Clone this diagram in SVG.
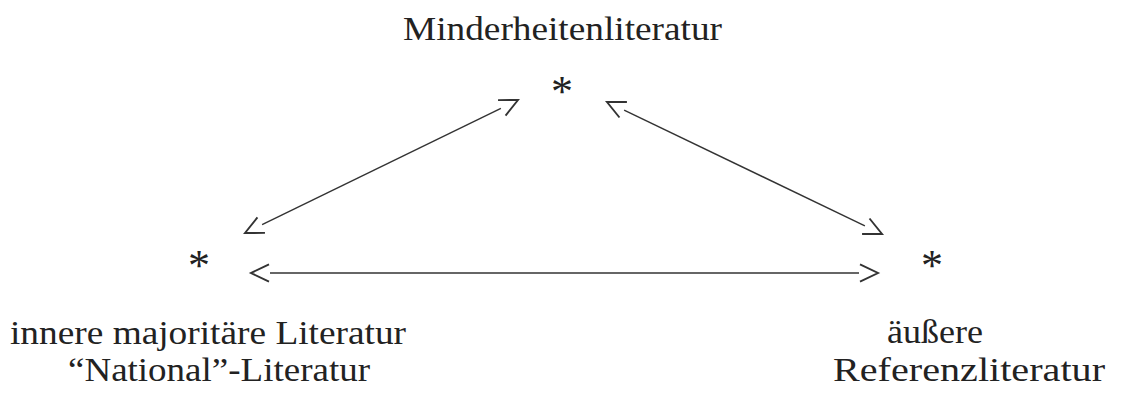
<svg xmlns="http://www.w3.org/2000/svg" width="1123" height="396" viewBox="0 0 1123 396">
<style>
.t{font-family:"Liberation Serif","Times New Roman",serif;font-size:34px;fill:#222}
.s{font-family:"Liberation Serif","Times New Roman",serif;font-size:44px;fill:#222;text-anchor:middle}
.c{stroke:#333;stroke-width:1.4;fill:none}
</style>
<defs>
<marker id="ah" viewBox="-2 -12 24 24" refX="0" refY="0" markerWidth="24" markerHeight="24" markerUnits="userSpaceOnUse" orient="auto-start-reverse" overflow="visible">
<path d="M1,-8.6 L19,0 L1,8.6" fill="none" stroke="#333" stroke-width="1.9" stroke-linejoin="miter"/>
</marker>
</defs>
<rect width="1123" height="396" fill="#fff"/>
<g id="connectors">
<line class="c" x1="262.1" y1="224.7" x2="500.9" y2="108.3" marker-start="url(#ah)" marker-end="url(#ah)"/>
<line class="c" x1="624.1" y1="110.2" x2="864.9" y2="225.8" marker-start="url(#ah)" marker-end="url(#ah)"/>
<line class="c" x1="270" y1="273" x2="859" y2="273" marker-start="url(#ah)" marker-end="url(#ah)"/>
</g>
<g id="node-top">
<text class="t" x="403" y="40" textLength="319" lengthAdjust="spacingAndGlyphs">Minderheitenliteratur</text>
<text class="s" x="562" y="106">*</text>
</g>
<g id="node-left">
<text class="s" x="199" y="280">*</text>
<text class="t" x="10" y="344" textLength="396" lengthAdjust="spacingAndGlyphs">innere majoritäre Literatur</text>
<text class="t" x="68" y="381" textLength="302" lengthAdjust="spacingAndGlyphs">“National”-Literatur</text>
</g>
<g id="node-right">
<text class="s" x="932" y="280">*</text>
<text class="t" x="887" y="343" textLength="96" lengthAdjust="spacingAndGlyphs">äußere</text>
<text class="t" x="833" y="381" textLength="272" lengthAdjust="spacingAndGlyphs">Referenzliteratur</text>
</g>
</svg>
